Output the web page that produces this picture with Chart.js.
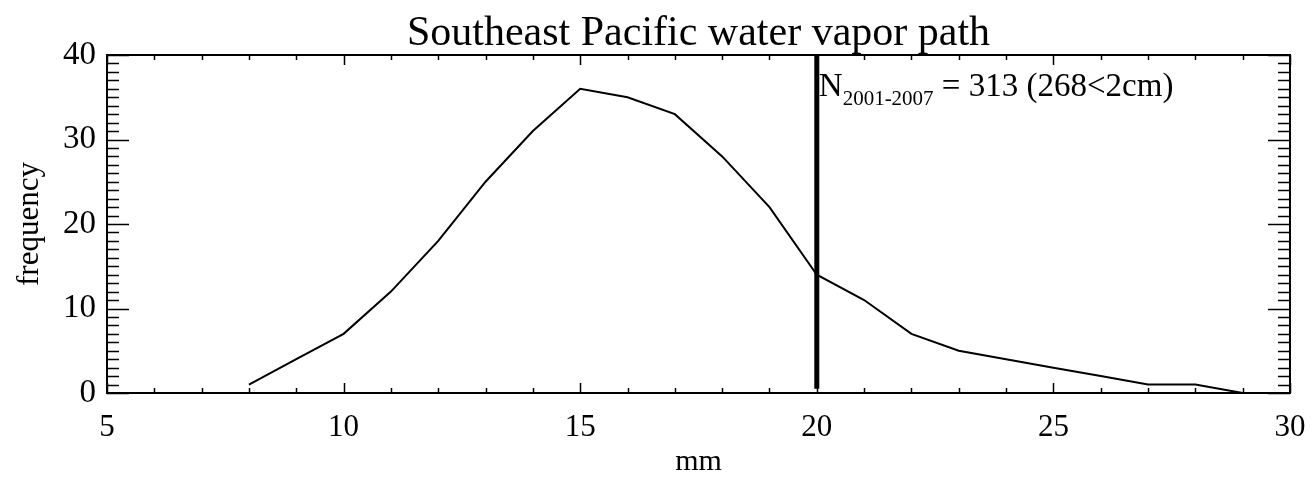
<!DOCTYPE html>
<html>
<head>
<meta charset="utf-8">
<script src="https://cdn.jsdelivr.net/npm/chart.js@4.4.1/dist/chart.umd.min.js"></script>
<style>
  html, body { margin: 0; padding: 0; background: #fff; }
  #wrap { width: 1315px; height: 477px; }
</style>
</head>
<body>
<div id="wrap"><canvas id="vapor-chart" width="1315" height="477"></canvas></div>
<script>
// =============================================================================
// DATA
// =============================================================================

const vaporMm   = [8, 9, 10, 11, 12, 13, 14, 15, 16, 17, 18, 19, 20, 21, 22, 23, 24, 25, 26, 27, 28, 29, 30];
const frequency = [1, 4, 7, 12, 18, 25, 31, 36, 35, 33, 28, 22, 14, 11, 7, 5, 4, 3, 2, 1, 1, 0, 0];

const cutoffMm = 20;            // 2 cm threshold line
const cutoffSpan = [0.5, 40];   // frequency range covered by the line

const xTicks = [5, 10, 15, 20, 25, 30];
const yTicks = [0, 10, 20, 30, 40];

const TITLE = 'Southeast Pacific water vapor path';
const X_LABEL = 'mm';
const Y_LABEL = 'frequency';
const NOTE_MAIN = 'N';
const NOTE_SUB = '2001-2007';
const NOTE_REST = ' = 313 (268<2cm)';

const SERIF = '"Liberation Serif", "DejaVu Serif", serif';

// =============================================================================
// PLUGIN: box, inward IDL-style ticks, title, annotation
// =============================================================================

const idlFrame = {
  id: 'idlFrame',
  afterDatasetsDraw(chart) {
    const { ctx, chartArea: a, scales: { x, y } } = chart;
    ctx.save();
    ctx.strokeStyle = '#000';
    ctx.lineWidth = 2;
    ctx.strokeRect(a.left, a.top, a.right - a.left, a.bottom - a.top);

    // x ticks (bottom + top), minor every 1 mm
    ctx.lineWidth = 1.5;
    ctx.beginPath();
    for (let v = x.min; v <= x.max; v += 1) {
      const px = Math.round(x.getPixelForValue(v)) + 0.5;
      const len = xTicks.includes(v) ? 10 : 5;
      ctx.moveTo(px, a.bottom); ctx.lineTo(px, a.bottom - len);
      ctx.moveTo(px, a.top);    ctx.lineTo(px, a.top + len);
    }
    // y ticks (left + right), minor every 1
    for (let v = y.min; v <= y.max; v += 1) {
      const py = Math.round(y.getPixelForValue(v)) + 0.5;
      const len = yTicks.includes(v) ? 22 : 12;
      ctx.moveTo(a.left, py);  ctx.lineTo(a.left + len, py);
      ctx.moveTo(a.right, py); ctx.lineTo(a.right - len, py);
    }
    ctx.stroke();

    // title
    ctx.fillStyle = '#000';
    ctx.textAlign = 'center';
    ctx.textBaseline = 'alphabetic';
    ctx.font = '42px ' + SERIF;
    ctx.fillText(TITLE, (a.left + a.right) / 2, a.top - 10);

    // annotation next to the cutoff line
    const nx = x.getPixelForValue(cutoffMm) + 2;
    const ny = y.getPixelForValue(35.2);
    ctx.textAlign = 'left';
    ctx.font = '33px ' + SERIF;
    ctx.fillText(NOTE_MAIN, nx, ny);
    let cx = nx + ctx.measureText(NOTE_MAIN).width;
    ctx.font = '21px ' + SERIF;
    ctx.fillText(NOTE_SUB, cx, ny + 9);
    cx += ctx.measureText(NOTE_SUB).width;
    ctx.font = '33px ' + SERIF;
    ctx.fillText(NOTE_REST, cx, ny);
    ctx.restore();
  }
};

// =============================================================================
// CHART
// =============================================================================

const ctx = document.getElementById('vapor-chart').getContext('2d');

new Chart(ctx, {
  type: 'scatter',
  data: {
    datasets: [
      {
        data: vaporMm.map((v, i) => ({ x: v, y: frequency[i] })),
        showLine: true,
        borderColor: '#000',
        borderWidth: 2,
        pointRadius: 0,
        tension: 0
      },
      {
        data: cutoffSpan.map(f => ({ x: cutoffMm, y: f })),
        showLine: true,
        borderColor: '#000',
        borderWidth: 5,
        pointRadius: 0
      }
    ]
  },
  options: {
    responsive: false,
    animation: false,
    layout: { padding: { top: 55, right: 25, left: 0, bottom: 0 } },
    plugins: {
      legend: { display: false },
      tooltip: { enabled: false }
    },
    scales: {
      x: {
        type: 'linear',
        min: 5,
        max: 30,
        afterFit: (scale) => {
          scale.height = 84;
          scale.paddingRight = 0;
          scale.paddingLeft = 0;
        },
        afterBuildTicks: (scale) => { scale.ticks = xTicks.map(v => ({ value: v })); },
        grid: { display: false, drawTicks: false },
        border: { display: false },
        ticks: {
          color: '#000',
          font: { family: SERIF, size: 31 },
          padding: 16,
          maxRotation: 0
        },
        title: {
          display: true,
          text: X_LABEL,
          color: '#000',
          font: { family: SERIF, size: 30 },
          padding: { top: 0, bottom: -3 }
        }
      },
      y: {
        min: 0,
        max: 40,
        afterFit: (scale) => {
          scale.width = 107;
          scale.paddingTop = 0;
          scale.paddingBottom = 0;
        },
        afterBuildTicks: (scale) => { scale.ticks = yTicks.map(v => ({ value: v })); },
        grid: { display: false, drawTicks: false },
        border: { display: false },
        ticks: {
          color: '#000',
          font: { family: SERIF, size: 33 },
          padding: 11
        },
        title: {
          display: true,
          text: Y_LABEL,
          color: '#000',
          font: { family: SERIF, size: 31 },
          padding: { top: 11, bottom: 0 }
        }
      }
    }
  },
  plugins: [idlFrame]
});
</script>
</body>
</html>
